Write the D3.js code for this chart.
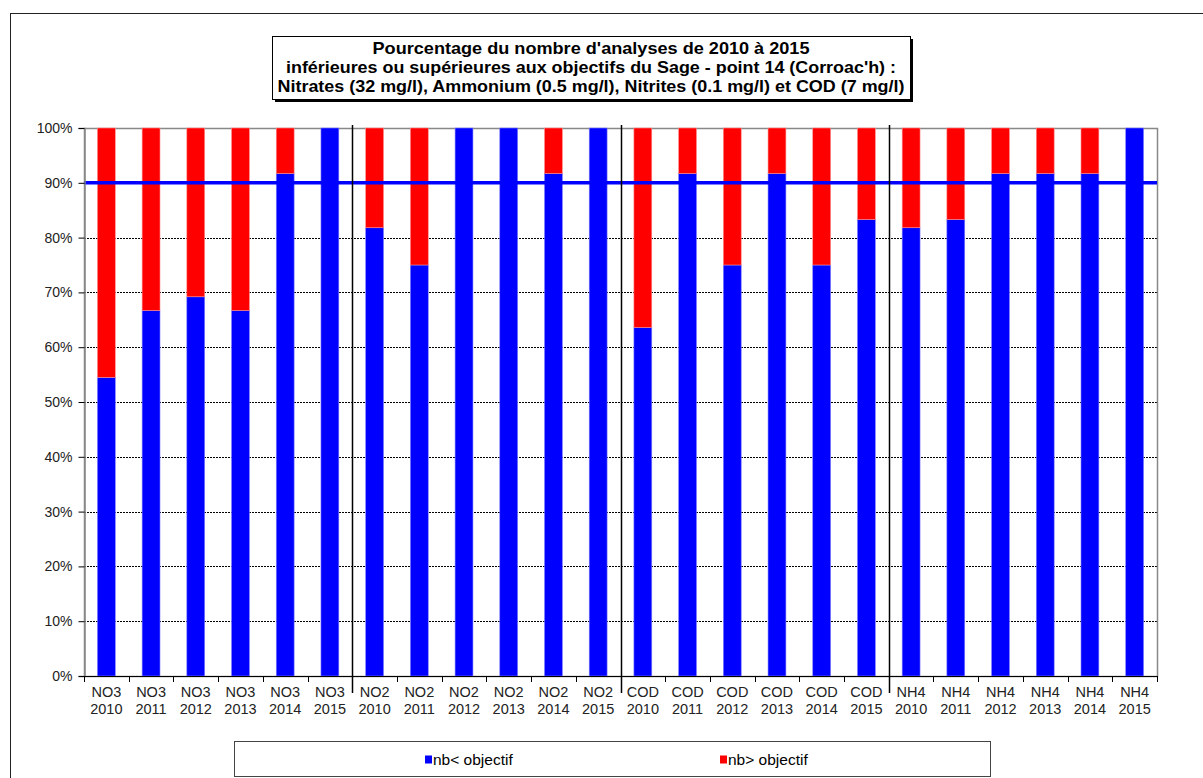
<!DOCTYPE html>
<html lang="fr">
<head>
    <meta charset="utf-8">
    <title>Pourcentage du nombre d'analyses - point 14 (Corroac'h)</title>
    <style>
        body {
            margin: 0;
            padding: 0;
            background: #fff;
            font-family: Arial, "Liberation Sans", sans-serif;
        }
        svg { display: block; }
    </style>
</head>
<body>
    <div id="chart"></div>

    <script src="https://cdn.jsdelivr.net/npm/d3@7/dist/d3.min.js"></script>
    <script>
        // Data
        const parameters = ["NO3", "NO2", "COD", "NH4"];
        const years = ["2010", "2011", "2012", "2013", "2014", "2015"];
        // share of analyses below the objective, in %, per parameter and year
        const belowNO3 = [54.5, 66.7, 69.2, 66.7, 91.7, 100];
        const belowNO2 = [81.8, 75, 100, 100, 91.7, 100];
        const belowCOD = [63.6, 91.7, 75, 91.7, 75, 83.3];
        const belowNH4 = [81.8, 83.3, 91.7, 91.7, 91.7, 100];
        const yTicks = [0, 10, 20, 30, 40, 50, 60, 70, 80, 90, 100];
        const objectiveLine = 90;
        const seriesNames = ["nb< objectif", "nb> objectif"];
        const titleLines = [
            "Pourcentage du nombre d'analyses de 2010  à 2015",
            "inférieures ou supérieures aux objectifs du Sage - point 14 (Corroac'h) :",
            "Nitrates (32 mg/l), Ammonium (0.5 mg/l), Nitrites  (0.1 mg/l) et COD (7 mg/l)"
        ];

        const belowByParam = [belowNO3, belowNO2, belowCOD, belowNH4];
        const rows = [];
        parameters.forEach((p, i) => {
            years.forEach((y, j) => {
                const below = belowByParam[i][j];
                rows.push({ key: p + " " + y, param: p, year: y, below: below, above: 100 - below });
            });
        });

        const width = 1203, height = 778;
        const margin = { top: 128, right: 46, bottom: 102, left: 84 };
        const font = "Arial, 'Liberation Sans', sans-serif";

        const svg = d3.select("#chart").append("svg")
            .attr("width", width)
            .attr("height", height);

        // outer frame
        svg.append("rect")
            .attr("x", 10.5).attr("y", 13.5)
            .attr("width", 1200).attr("height", 800)
            .attr("fill", "none")
            .attr("stroke", "#222")
            .attr("stroke-width", 1);

        const x = d3.scaleBand()
            .domain(rows.map(d => d.key))
            .range([margin.left, width - margin.right])
            .paddingInner(0.6)
            .paddingOuter(0.3);

        const y = d3.scaleLinear()
            .domain([0, 100])
            .range([height - margin.bottom, margin.top]);

        // gridlines
        svg.append("g")
            .selectAll("line")
            .data(yTicks.filter(t => t > 0 && t < 100))
            .join("line")
            .attr("x1", margin.left).attr("x2", width - margin.right)
            .attr("y1", d => Math.round(y(d)) + 0.5)
            .attr("y2", d => Math.round(y(d)) + 0.5)
            .attr("stroke", "#000")
            .attr("stroke-width", 1)
            .attr("stroke-dasharray", "2,1");

        // plot area border (grey)
        svg.append("rect")
            .attr("x", margin.left + 0.5).attr("y", margin.top + 0.5)
            .attr("width", width - margin.right - margin.left)
            .attr("height", height - margin.bottom - margin.top)
            .attr("fill", "none")
            .attr("stroke", "#888")
            .attr("stroke-width", 1.5);

        // stacked bars
        const stacked = d3.stack().keys(["below", "above"])(rows);
        const colors = ["#0000ff", "#ff0000"];
        const strokes = ["#8080ff", "#ff9090"];

        svg.append("g")
            .selectAll("g")
            .data(stacked)
            .join("g")
            .attr("fill", (d, i) => colors[i])
            .attr("stroke", (d, i) => strokes[i])
            .attr("stroke-width", 0.6)
            .selectAll("rect")
            .data(d => d.filter(s => s[1] - s[0] > 0))
            .join("rect")
            .attr("x", d => x(d.data.key))
            .attr("width", x.bandwidth())
            .attr("y", d => y(d[1]))
            .attr("height", d => y(d[0]) - y(d[1]));

        // objective line at 90%
        svg.append("line")
            .attr("x1", margin.left).attr("x2", width - margin.right)
            .attr("y1", y(objectiveLine)).attr("y2", y(objectiveLine))
            .attr("stroke", "#0000ff")
            .attr("stroke-width", 3.5);

        // y axis
        const yAxis = svg.append("g")
            .attr("transform", `translate(${margin.left + 0.5},0)`)
            .call(d3.axisLeft(y).tickValues(yTicks).tickFormat(d => d + "%").tickSize(6).tickPadding(6));
        yAxis.select(".domain").attr("stroke", "#888").attr("stroke-width", 1.5);
        yAxis.selectAll(".tick line").attr("stroke", "#000");
        yAxis.selectAll("text")
            .attr("font-family", font)
            .attr("font-size", 14)
            .attr("fill", "#222");

        // x axis: ticks between categories
        const step = x.step();
        const tickPos = d3.range(rows.length + 1).map(i => margin.left + i * step);
        const xAxis = svg.append("g");
        xAxis.append("line")
            .attr("x1", margin.left).attr("x2", width - margin.right)
            .attr("y1", y(0) + 0.5).attr("y2", y(0) + 0.5)
            .attr("stroke", "#000");
        xAxis.selectAll(".xt")
            .data(tickPos)
            .join("line")
            .attr("class", "xt")
            .attr("x1", d => Math.round(d) + 0.5).attr("x2", d => Math.round(d) + 0.5)
            .attr("y1", y(0)).attr("y2", y(0) + 6)
            .attr("stroke", "#000");

        const labels = xAxis.selectAll(".xl")
            .data(rows)
            .join("text")
            .attr("class", "xl")
            .attr("text-anchor", "middle")
            .attr("font-family", font)
            .attr("font-size", 14.5)
            .attr("fill", "#222");
        labels.append("tspan")
            .attr("x", d => x(d.key) + x.bandwidth() / 2)
            .attr("y", y(0) + 21)
            .text(d => d.param);
        labels.append("tspan")
            .attr("x", d => x(d.key) + x.bandwidth() / 2)
            .attr("y", y(0) + 38)
            .text(d => d.year);

        // group separators
        svg.append("g")
            .selectAll("line")
            .data(parameters.slice(1))
            .join("line")
            .attr("x1", (d, i) => Math.round(margin.left + (i + 1) * years.length * step) + 0.5)
            .attr("x2", (d, i) => Math.round(margin.left + (i + 1) * years.length * step) + 0.5)
            .attr("y1", margin.top - 3)
            .attr("y2", y(0) + 17)
            .attr("stroke", "#000")
            .attr("stroke-width", 1.5);

        // title box with shadow
        const tb = { x: 272, y: 36, w: 638, h: 63 };
        const titleWidths = [437, 610, 627];
        svg.append("rect")
            .attr("x", tb.x + 3).attr("y", tb.y + 3)
            .attr("width", tb.w).attr("height", tb.h)
            .attr("fill", "#000");
        svg.append("rect")
            .attr("x", tb.x + 0.5).attr("y", tb.y + 0.5)
            .attr("width", tb.w).attr("height", tb.h)
            .attr("fill", "#fff")
            .attr("stroke", "#000");
        svg.append("g")
            .selectAll("text")
            .data(titleLines)
            .join("text")
            .attr("x", tb.x + tb.w / 2)
            .attr("y", (d, i) => tb.y + 18 + i * 19)
            .attr("text-anchor", "middle")
            .attr("font-family", font)
            .attr("font-weight", "bold")
            .attr("font-size", 16.5)
            .attr("textLength", (d, i) => titleWidths[i])
            .attr("lengthAdjust", "spacingAndGlyphs")
            .attr("fill", "#000")
            .text(d => d);

        // legend
        const lg = svg.append("g");
        lg.append("rect")
            .attr("x", 234.5).attr("y", 741.5)
            .attr("width", 756).attr("height", 35)
            .attr("fill", "#fff")
            .attr("stroke", "#444");
        const legendX = [425, 720];
        const items = lg.selectAll(".li")
            .data(seriesNames)
            .join("g")
            .attr("class", "li")
            .attr("transform", (d, i) => `translate(${legendX[i]},759)`);
        items.append("rect")
            .attr("x", 0).attr("y", -3.5)
            .attr("width", 7).attr("height", 8)
            .attr("fill", (d, i) => colors[i]);
        items.append("text")
            .attr("x", 8).attr("y", 5.5)
            .attr("font-family", font)
            .attr("font-size", 15.5)
            .attr("fill", "#000")
            .text(d => d);
    </script>
</body>
</html>
